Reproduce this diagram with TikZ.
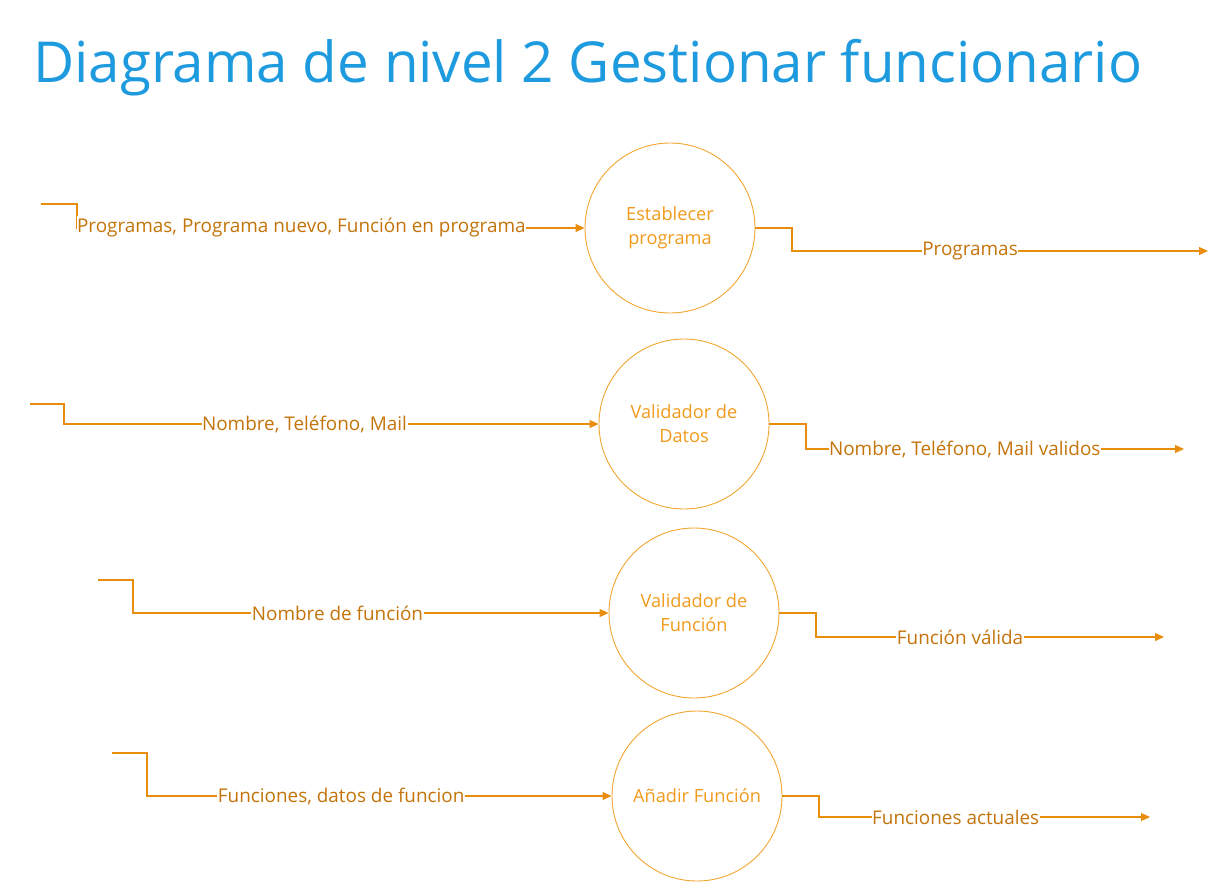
\documentclass[tikz,border=0pt]{standalone}
\usepackage{fontspec}
\setmainfont{Open Sans}
\usetikzlibrary{arrows.meta}
\definecolor{ttlblue}{HTML}{1E9BDF}
\definecolor{lineor}{HTML}{E88D0C}
\definecolor{circor}{HTML}{F3A530}
\definecolor{lblor}{HTML}{C4740A}
\definecolor{procor}{HTML}{F19A1C}
\tikzset{
  proc/.style={circle,draw=circor,line width=0.9pt,minimum size=170pt,inner sep=0pt,
    text=procor,font=\fontsize{18.2}{24}\selectfont,align=center},
  flow/.style={draw=lineor,line width=1.1pt,-{Triangle[length=9pt,width=8pt]}},
  lbl/.style={fill=white,text=lblor,font=\fontsize{18.9}{21}\selectfont,inner xsep=0.5pt,inner ysep=2pt}
}
\begin{document}
\begin{tikzpicture}[x=1pt,y=-1pt]
\useasboundingbox (0,0) rectangle (1209,883);
\node[anchor=base west,text=ttlblue,font=\fontsize{56.5}{64}\selectfont,inner sep=0pt] (title) at (33,82) {Diagrama de nivel 2 Gestionar funcionario};
% processes
\node[proc] (p1) at (670,228) {Establecer\\programa};
\node[proc] (p2) at (684,424) {Validador de\\Datos};
\node[proc] (p3) at (694,613) {Validador de\\Función};
\node[proc] (p4) at (697,796) {Añadir Función};
% input coordinates
\coordinate (s1) at (41,204);  \coordinate (k1) at (77,228);
\coordinate (s2) at (30,404);  \coordinate (k2) at (64,424);
\coordinate (s3) at (98,580);  \coordinate (k3) at (133,613);
\coordinate (s4) at (112,753); \coordinate (k4) at (147,796);
% output coordinates
\coordinate (m1) at (792,251); \coordinate (e1) at (1208,251);
\coordinate (m2) at (806,449); \coordinate (e2) at (1184,449);
\coordinate (m3) at (816,637); \coordinate (e3) at (1164,637);
\coordinate (m4) at (819,817); \coordinate (e4) at (1150,817);
% inputs
\draw[flow] (s1) -| (k1) -- node[lbl,pos=0.442] (l1) {Programas, Programa nuevo, Función en programa} (p1.west);
\draw[flow] (s2) -| (k2) -- node[lbl,pos=0.45] (l2) {Nombre, Teléfono, Mail} (p2.west);
\draw[flow] (s3) -| (k3) -- node[lbl,pos=0.43] (l3) {Nombre de función} (p3.west);
\draw[flow] (s4) -| (k4) -- node[lbl,pos=0.418] (l4) {Funciones, datos de funcion} (p4.west);
% outputs
\draw[flow] (p1.east) -| (m1) -- node[lbl,pos=0.428] (o1) {Programas} (e1);
\draw[flow] (p2.east) -| (m2) -- node[lbl,pos=0.42] (o2) {Nombre, Teléfono, Mail validos} (e2);
\draw[flow] (p3.east) -| (m3) -- node[lbl,pos=0.414] (o3) {Función válida} (e3);
\draw[flow] (p4.east) -| (m4) -- node[lbl,pos=0.413] (o4) {Funciones actuales} (e4);
\end{tikzpicture}
\end{document}
